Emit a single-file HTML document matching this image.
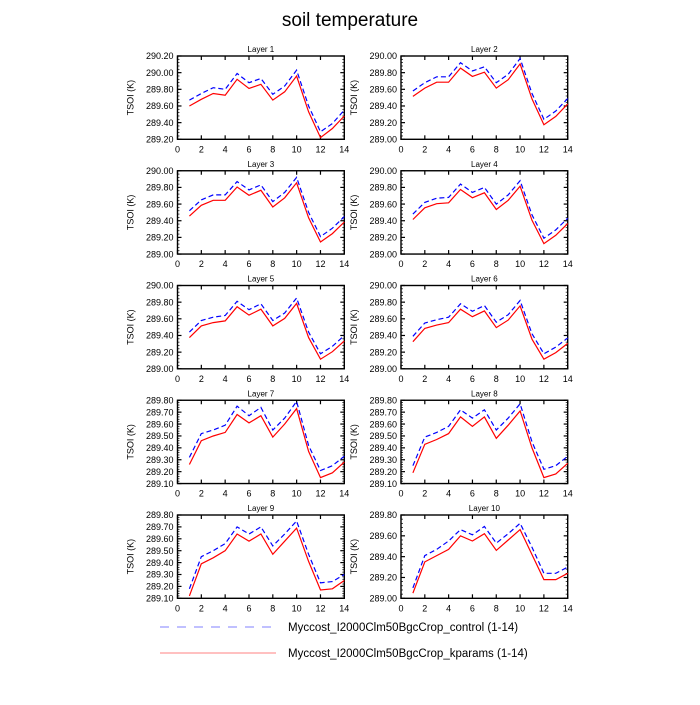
<!DOCTYPE html>
<html><head><style>body{margin:0;background:#fff}</style></head><body>
<svg id="s" width="700" height="700" xmlns="http://www.w3.org/2000/svg" font-family="Liberation Sans, sans-serif"></svg>
<script>
const D=[
[[289.2,290.2,.2,2],[289.67,289.75,289.82,289.80,289.99,289.88,289.93,289.74,289.84,290.03,289.60,289.29,289.39,289.55],[289.60,289.68,289.75,289.73,289.92,289.81,289.86,289.67,289.77,289.96,289.53,289.22,289.33,289.48]],
[[289,290,.2,2],[289.58,289.68,289.75,289.75,289.92,289.82,289.87,289.68,289.78,289.97,289.55,289.24,289.34,289.49],null],
[[289,290,.2,2],[289.52,289.65,289.71,289.71,289.87,289.77,289.83,289.63,289.74,289.92,289.50,289.21,289.31,289.45],null],
[[289,290,.2,2],[289.48,289.62,289.67,289.68,289.84,289.74,289.80,289.60,289.71,289.88,289.47,289.19,289.29,289.43],null],
[[289,290,.2,2],[289.44,289.58,289.62,289.64,289.81,289.71,289.78,289.58,289.67,289.85,289.44,289.18,289.27,289.40],null],
[[289,290,.2,2],[289.39,289.55,289.59,289.62,289.78,289.69,289.76,289.56,289.65,289.82,289.42,289.18,289.26,289.37],null],
[[289.1,289.8,.1,2],[289.32,289.52,289.55,289.59,289.75,289.67,289.74,289.55,289.65,289.79,289.42,289.21,289.25,289.33],[289.26,289.46,289.50,289.53,289.68,289.61,289.67,289.49,289.60,289.73,289.37,289.15,289.19,289.28]],
[[289.1,289.8,.1,2],[289.25,289.49,289.53,289.58,289.72,289.65,289.72,289.55,289.65,289.77,289.45,289.22,289.25,289.33],[289.19,289.43,289.47,289.52,289.66,289.58,289.66,289.48,289.59,289.71,289.40,289.15,289.18,289.27]],
[[289.1,289.8,.1,2],[289.18,289.45,289.50,289.56,289.70,289.64,289.70,289.54,289.64,289.75,289.47,289.23,289.24,289.30],[289.12,289.39,289.44,289.50,289.64,289.58,289.64,289.47,289.58,289.69,289.41,289.17,289.18,289.25]],
[[289,289.8,.2,2],[289.10,289.41,289.47,289.55,289.66,289.61,289.69,289.53,289.62,289.72,289.49,289.24,289.24,289.30],[289.05,289.35,289.41,289.47,289.60,289.55,289.62,289.46,289.56,289.66,289.42,289.18,289.18,289.24]]];
let h='<text x="350" y="26" font-size="19" text-anchor="middle">soil temperature</text>';
D.forEach((d,i)=>{
 const col=i%2,row=Math.floor(i/2);
 const x0=col?401:177.5,x1=col?567.7:344.3,y0=56+row*114.75,y1=y0+83.3;
 const [mn,mx,st]=d[0];const red=d[2]||d[1].map(v=>v-0.065);
 const X=v=>x0+(x1-x0)*v/14,Y=v=>y1-(y1-y0)*(v-mn)/(mx-mn);
 h+=`<rect x="${x0}" y="${y0}" width="${x1-x0}" height="${y1-y0}" fill="none" stroke="#000" stroke-width="1.4"/>`;
 h+=`<text x="${(x0+x1)/2}" y="${y0-4}" font-size="8" text-anchor="middle">Layer ${i+1}</text>`;
 for(let k=0;k<=14;k+=2){const x=X(k);h+=`<line x1="${x}" y1="${y1}" x2="${x}" y2="${y1-4}" stroke="#000" stroke-width="1.2"/><line x1="${x}" y1="${y0}" x2="${x}" y2="${y0+4}" stroke="#000" stroke-width="1.2"/><text x="${x}" y="${y1+13}" font-size="9" text-anchor="middle">${k}</text>`;}
 const n=Math.round((mx-mn)/st);
 for(let k=0;k<=n;k++){const v=mn+k*st,y=Y(v);h+=`<line x1="${x0}" y1="${y}" x2="${x0+4}" y2="${y}" stroke="#000" stroke-width="1.2"/><line x1="${x1}" y1="${y}" x2="${x1-4}" y2="${y}" stroke="#000" stroke-width="1.2"/><text x="${x0-4}" y="${y+3.2}" font-size="9" text-anchor="end">${v.toFixed(2)}</text>`;
  if(k<n)for(let m=1;m<5;m++){const ym=Y(v+st*m/5);h+=`<line x1="${x0}" y1="${ym}" x2="${x0+2}" y2="${ym}" stroke="#000" stroke-width=".7"/><line x1="${x1}" y1="${ym}" x2="${x1-2}" y2="${ym}" stroke="#000" stroke-width=".7"/>`;}}
 h+=`<text transform="translate(${x0-44},${(y0+y1)/2}) rotate(-90)" font-size="9" text-anchor="middle">TSOI  (K)</text>`;
 const pts=a=>a.map((v,j)=>X(j+1).toFixed(1)+','+Y(v).toFixed(1)).join(' ');
 h+=`<polyline points="${pts(d[1])}" fill="none" stroke="#0000ff" stroke-width="1.2" stroke-dasharray="5,3"/>`;
 h+=`<polyline points="${pts(red)}" fill="none" stroke="#ff0000" stroke-width="1.2"/>`;
});
h+='<line x1="160" y1="627" x2="276" y2="627" stroke="#8080ff" stroke-dasharray="9,8"/><text x="288" y="631" font-size="11.5">Myccost_I2000Clm50BgcCrop_control (1-14)</text>';
h+='<line x1="160" y1="653" x2="276" y2="653" stroke="#ff8080"/><text x="288" y="657" font-size="11.5">Myccost_I2000Clm50BgcCrop_kparams (1-14)</text>';
document.getElementById('s').innerHTML=h;
</script>
</body></html>
